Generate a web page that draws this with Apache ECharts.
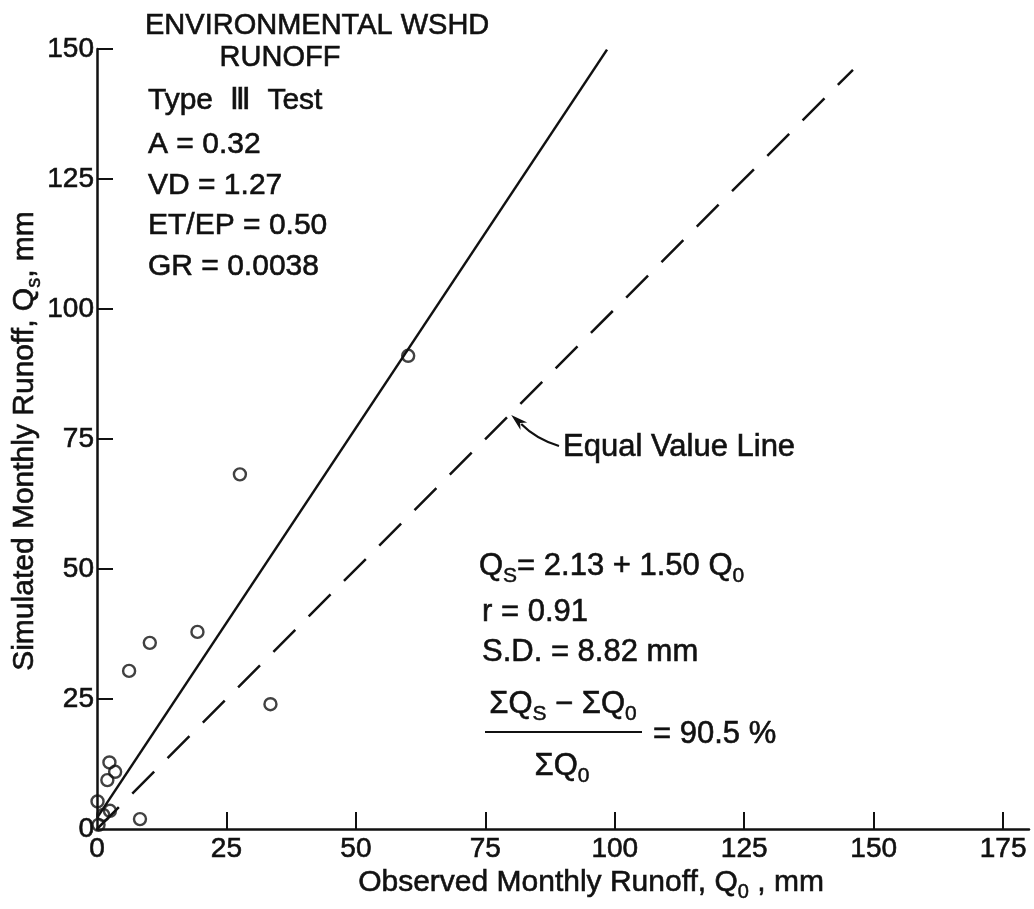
<!DOCTYPE html>
<html>
<head>
<meta charset="utf-8">
<script src="https://cdn.jsdelivr.net/npm/echarts@6/dist/echarts.min.js"></script>
<style>
  html, body { margin: 0; padding: 0; background: #fff; }
  #chart { width: 1034px; height: 909px; }
</style>
</head>
<body>
<div id="chart"></div>
<script>
// Monthly runoff, Environmental watershed: observed vs simulated (mm)
const observedQ  = [60.1, 27.6, 19.4, 10.2, 6.2, 33.5, 8.3, 2.4, 3.5, 2.0, 0.1, 2.5, 1.2, 0.3];
const simulatedQ = [91.0, 68.2, 37.9, 35.8, 30.4, 24.0, 1.9, 12.8, 11.0, 9.4, 5.3, 3.5, 2.7, 0.8];

const xTickValues = [0, 25, 50, 75, 100, 125, 150, 175];
const yTickValues = [0, 25, 50, 75, 100, 125, 150];

// Regression  Qs = 2.13 + 1.50 Qo
const fitIntercept = 2.13;
const fitSlope = 1.50;
const fitXRange = [0, 98.5];
// Equal value line  Qs = Qo
const equalXRange = [0, 146];
const arrowAt = 80;

const titleLines = ['ENVIRONMENTAL WSHD', 'RUNOFF'];
const testName = 'Type  \u2162  Test';
const paramLines = ['A = 0.32', 'VD = 1.27', 'ET/EP = 0.50', 'GR = 0.0038'];

const FONT = '"Liberation Sans", Arial, sans-serif';
const INK = '#111';
const PEN = 0.6; // extra stroke so lettering has an inked weight

const chart = echarts.init(document.getElementById('chart'), null, { renderer: 'canvas' });

const scatterData = observedQ.map((x, i) => [x, simulatedQ[i]]);
const fitData = fitXRange.map(x => [x, fitIntercept + fitSlope * x]);
const equalData = equalXRange.map(x => [x, x]);

function plainText(text, x, y, size, align) {
  return { type: 'text', style: { text: text, x: x, y: y, fontSize: size, fontFamily: FONT, fill: INK,
    stroke: INK, lineWidth: PEN, align: align || 'left', verticalAlign: 'middle' } };
}

// Text line with subscripts: parts are [string, isSubscript]
const measureCtx = document.createElement('canvas').getContext('2d');
function textWidth(s, size) {
  measureCtx.font = size + 'px ' + FONT;
  return measureCtx.measureText(s).width;
}
function subLine(parts, x, y, opt) {
  const size = opt.size, subSize = opt.subSize, drop = opt.drop;
  const widths = parts.map(p => textWidth(p[0], p[1] ? subSize : size));
  const total = widths.reduce((a, b) => a + b, 0);
  let cx = opt.align === 'center' ? -total / 2 : 0;
  const children = parts.map((p, i) => {
    const el = { type: 'text', style: { text: p[0], x: cx, y: p[1] ? drop : 0,
      fontSize: p[1] ? subSize : size, fontFamily: FONT, fill: INK, stroke: INK,
      lineWidth: p[1] ? PEN * 0.8 : PEN, align: 'left', verticalAlign: 'middle' } };
    cx += widths[i];
    return el;
  });
  return { type: 'group', x: x, y: y, rotation: opt.rotation || 0, children: children };
}
const statFont = { size: 31, subSize: 21, drop: 10 };
const axisFont = { size: 30, subSize: 20, drop: 9 };

chart.setOption({
  animation: false,
  backgroundColor: '#fff',
  grid: { left: 97, right: 5, top: 49, bottom: 80, containLabel: false },
  xAxis: {
    type: 'value', min: 0, max: 180, interval: 25,
    axisLine: { lineStyle: { color: INK, width: 2.5 } },
    axisTick: { inside: true, length: 17, lineStyle: { color: INK, width: 2 },
                customValues: xTickValues.filter(v => v > 0) },
    axisLabel: { customValues: xTickValues, color: INK, fontSize: 28, fontFamily: FONT, margin: 6,
                 textBorderColor: INK, textBorderWidth: PEN },
    splitLine: { show: false }
  },
  yAxis: {
    type: 'value', min: 0, max: 150, interval: 25,
    axisLine: { lineStyle: { color: INK, width: 2.5 } },
    axisTick: { inside: true, length: 16, lineStyle: { color: INK, width: 2 },
                customValues: yTickValues.filter(v => v > 0) },
    axisLabel: { customValues: yTickValues, color: INK, fontSize: 28, fontFamily: FONT, margin: 3,
                 textBorderColor: INK, textBorderWidth: PEN },
    splitLine: { show: false }
  },
  series: [
    {
      type: 'line', data: equalData, symbol: 'none', silent: true,
      lineStyle: { color: INK, width: 2.5, type: [31, 19] }, z: 2
    },
    {
      type: 'line', data: fitData, symbol: 'none', silent: true,
      lineStyle: { color: INK, width: 2.5 }, z: 2
    },
    {
      type: 'scatter', data: scatterData, symbol: 'circle', symbolSize: 12,
      itemStyle: { color: 'rgba(0,0,0,0)', borderColor: INK, borderWidth: 2.4 }, z: 3
    }
  ]
});

// Annotations
const tip = chart.convertToPixel({ gridIndex: 0 }, [arrowAt, arrowAt]);
const tx = tip[0], ty = tip[1] + 2;
const graphics = [];

graphics.push(plainText(titleLines[0], 145, 26, 29));
graphics.push(plainText(titleLines[1], 280, 58, 29, 'center'));
graphics.push(plainText(testName, 148, 101, 30));
paramLines.forEach((s, i) => graphics.push(plainText(s, 148, 145 + i * 40.5, 30)));

// Statistics block
const statX = 479;
graphics.push(subLine([['Q', false], ['S', true], ['= 2.13 + 1.50 Q', false], ['0', true]], statX, 566, statFont));
graphics.push(plainText('r = 0.91', statX + 3, 612, 31));
graphics.push(plainText('S.D. = 8.82 mm', statX + 3, 652, 31));
graphics.push(subLine([['\u03A3Q', false], ['S', true], [' \u2212 \u03A3Q', false], ['0', true]], 563, 704,
  Object.assign({ align: 'center' }, statFont)));
graphics.push({ type: 'line', shape: { x1: 485, y1: 732, x2: 642, y2: 732 }, style: { stroke: INK, lineWidth: 2.2 } });
graphics.push(plainText('= 90.5 %', 653, 734, 31));
graphics.push(subLine([['\u03A3Q', false], ['0', true]], 562, 766, Object.assign({ align: 'center' }, statFont)));

// Equal value line callout
graphics.push(plainText('Equal Value Line', 563, 447, 31));
graphics.push({ type: 'bezierCurve', shape: { x1: 559, y1: 446, cpx1: 536, cpy1: 439, x2: tx + 10, y2: ty + 9 }, style: { stroke: INK, lineWidth: 2.2, fill: null } });
(function () {
  const dx = -0.745, dy = -0.667, len = 17, hw = 5;
  const bx = tx - dx * len, by = ty - dy * len;
  const px = -dy * hw, py = dx * hw;
  graphics.push({ type: 'polygon', shape: { points: [[tx, ty], [bx + px, by + py], [tx - dx * len * 0.7, ty - dy * len * 0.7], [bx - px, by - py]] }, style: { fill: INK } });
})();

// Axis titles
graphics.push(subLine([['Observed Monthly Runoff, Q', false], ['0', true], [' , mm', false]], 591, 883,
  Object.assign({ align: 'center' }, axisFont)));
graphics.push(subLine([['Simulated Monthly Runoff, Q', false], ['s', true], [', mm', false]], 25, 441,
  Object.assign({ align: 'center', rotation: Math.PI / 2 }, axisFont)));

chart.setOption({ graphic: graphics });
</script>
</body>
</html>
